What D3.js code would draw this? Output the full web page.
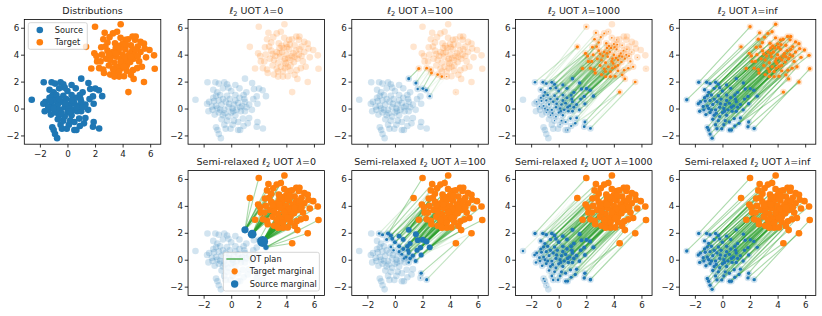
<!DOCTYPE html>
<html>
<head>
<meta charset="utf-8">
<script src="https://cdn.jsdelivr.net/npm/d3@7"></script>
<style>
  body { margin: 0; background: #fff; }
  text { font-family: "DejaVu Sans", sans-serif; }
</style>
</head>
<body>
<svg id="fig" width="822" height="316"></svg>
<script>
const srcX = [-2.59, -1.72, -1.15, -0.9, -0.5, -0.3, 1.0, 1.52, 2.02, 2.28,
  2.52, 1.85, 1.65, 1.1, 0.6, 0.3, -0.2, -0.6, -1.3, -1.0,
  -1.6, -1.75, -1.3, -1.1, -0.8, -1.65, -1.35, -1.2, -0.9, -0.6,
  -1.1, -1.0, -0.9, -0.75, -0.5, -0.3, 0.1, 0.5, 0.65, 0.9,
  0.85, 1.9, 1.85, 2.3, 1.3, 0.3, 0.0, -0.2, 0.2, 0.5,
  0.8, 1.0, 1.3, 1.5, 1.9, 0.6, 0.3, -0.1, -0.4, -0.7,
  -0.9, -1.1, -0.5, -0.2, 0.1, 0.4, 0.7, 1.0, 1.1, -0.4,
  0.2, 0.5, -0.7, -1.4, -0.3, 0.0, 0.9, 1.6, -0.6, 0.3,
  -0.8, -0.05, 1.2, 0.65, -0.15, -1.0, 0.15, -0.45, 0.95, -1.25];
const srcY = [0.65, 1.95, 1.95, 1.85, 1.95, 1.8, 2.22, 1.9, 1.48, 1.36,
  0.92, 0.9, 1.45, 1.2, 1.5, 1.75, 1.55, 1.5, 1.4, 1.2,
  0.5, 0.35, 0.8, 0.95, 1.0, -0.2, -0.1, -0.45, -0.3, -0.5,
  -1.4, -1.6, -1.9, -2.2, -1.2, -0.9, -1.2, -1.6, -1.6, -1.3,
  -0.75, -1.0, -1.35, -1.48, -0.7, -0.5, -0.3, 0.1, 0.3, 0.4,
  0.2, 0.5, 0.3, -0.1, 0.35, 0.8, 1.0, 0.7, 0.5, 0.3,
  0.6, 0.2, -0.1, -0.6, 0.0, -0.1, -0.2, -0.2, 0.1, -1.5,
  -0.9, -1.0, -0.8, 0.15, 0.95, 1.3, 1.0, 0.7, 0.7, 0.6,
  -0.1, -1.5, -1.1, 0.1, 0.35, 0.0, -0.2, -0.35, 0.7, 0.55];

// target samples
const tgtX = [1.35, 2.0, 3.86, 2.7, 3.3, 3.6, 4.72, 5.3, 5.55, 5.95,
  6.28, 6.33, 5.55, 4.42, 3.75, 3.1, 1.73, 2.15, 1.95, 2.45,
  2.9, 3.05, 4.2, 4.9, 5.1, 4.6, 4.0, 3.5, 2.9, 2.5,
  2.4, 2.8, 3.2, 3.7, 4.2, 4.7, 5.3, 5.7, 5.2, 4.8,
  4.4, 3.9, 3.4, 3.0, 2.6, 2.65, 3.4, 3.9, 4.3, 4.75,
  4.1, 5.4, 4.6, 3.6, 4.0, 4.5, 3.8, 4.3, 3.3, 3.1,
  4.9, 3.55, 4.15, 3.75, 2.3, 5.1, 4.05, 3.45, 4.4, 3.85,
  5.05, 4.55, 2.75, 4.8, 3.4, 2.1, 4.95, 3.95, 4.3, 3.65,
  3.5, 4.6, 3.0, 4.25, 3.85, 5.6, 2.6, 3.3, 4.95, 4.1];
const tgtY = [4.58, 6.07, 6.26, 5.62, 5.58, 5.7, 5.35, 4.95, 4.82, 4.35,
  3.95, 2.95, 1.97, 1.22, 2.37, 2.52, 2.97, 3.5, 4.1, 4.55,
  4.9, 5.3, 5.1, 5.1, 4.6, 4.7, 4.8, 4.5, 4.3, 4.0,
  3.5, 3.7, 3.9, 4.2, 4.4, 4.3, 4.2, 3.8, 3.5, 3.7,
  3.9, 3.7, 3.4, 3.2, 2.9, 2.64, 2.75, 3.0, 3.2, 2.85,
  2.4, 3.1, 2.5, 3.1, 4.0, 4.1, 4.5, 3.6, 4.2, 3.6,
  4.0, 3.85, 3.75, 2.75, 3.0, 3.9, 4.55, 4.85, 5.15, 5.25,
  3.0, 3.45, 4.6, 2.2, 2.37, 3.9, 4.4, 3.35, 2.8, 4.65,
  4.1, 3.85, 4.05, 4.75, 3.5, 4.45, 5.15, 2.95, 5.35, 3.1];

const lambdas = [0, 100, 1000, Infinity];
const lambdaLabels = ["0", "100", "1000", "inf"];
const xTicks = [-2, 0, 2, 4, 6];
const yTicks = [-2, 0, 2, 4, 6];

const C0 = "#1f77b4", C1 = "#ff7f0e", C2 = "#2ca02c";
const W = 136.5, H = 124.8;
const colLeft = [24.3, 188.05, 351.8, 515.55, 679.3];
const rowTop = [19.4, 170.6];
const xDomain = [-3.13, 6.77], yDomain = [-2.65, 6.62];

const svg = d3.select("#fig");
const N = srcX.length, M = tgtX.length;
const a = 1 / N, b = 1 / M;

// squared euclidean cost, flat N x M
const cost = new Float64Array(N * M);
for (let i = 0; i < N; i++)
  for (let j = 0; j < M; j++)
    cost[i * M + j] = (srcX[i] - tgtX[j]) ** 2 + (srcY[i] - tgtY[j]) ** 2;

// l2 unbalanced OT: <C,P> + lam*||P1-a||^2 + lam*||P'1-b||^2, P >= 0
function solveUOT(lam, iters = 1800) {
  const k2 = 2 * lam;
  const step = 1 / (k2 * (N + M));
  let P = new Float64Array(N * M), Y = new Float64Array(N * M), t = 1;
  const r = new Float64Array(N), s = new Float64Array(M);
  for (let k = 0; k < iters; k++) {
    r.fill(0); s.fill(0);
    for (let i = 0; i < N; i++)
      for (let j = 0; j < M; j++) { const v = Y[i * M + j]; r[i] += v; s[j] += v; }
    const Pn = new Float64Array(N * M);
    for (let i = 0; i < N; i++)
      for (let j = 0; j < M; j++) {
        const q = i * M + j;
        const g = cost[q] + k2 * (r[i] - a) + k2 * (s[j] - b);
        Pn[q] = Math.max(0, Y[q] - step * g);
      }
    const tn = (1 + Math.sqrt(1 + 4 * t * t)) / 2, w = (t - 1) / tn;
    for (let q = 0; q < N * M; q++) Y[q] = Pn[q] + w * (Pn[q] - P[q]);
    P = Pn; t = tn;
  }
  return P;
}

function projSimplex(v, z) {
  const u = Float64Array.from(v).sort();
  let css = 0, theta = 0;
  for (let k = 0; k < u.length; k++) {
    const val = u[u.length - 1 - k];
    css += val;
    const th = (css - z) / (k + 1);
    if (val - th > 0) theta = th;
  }
  return v.map((d) => Math.max(0, d - theta));
}

// semi-relaxed: target marginal kept exact, source marginal penalised
function solveSemi(lam, iters = 700) {
  let P = new Float64Array(N * M);
  for (let j = 0; j < M; j++) {
    let best = 0;
    for (let i = 1; i < N; i++) if (cost[i * M + j] < cost[best * M + j]) best = i;
    P[best * M + j] = b;
  }
  if (lam === 0) return P;
  const k2 = 2 * lam;
  const step = 1 / (k2 * M);
  let Y = P.slice(), t = 1;
  const r = new Float64Array(N), col = new Float64Array(N);
  for (let k = 0; k < iters; k++) {
    r.fill(0);
    for (let i = 0; i < N; i++)
      for (let j = 0; j < M; j++) r[i] += Y[i * M + j];
    const Pn = new Float64Array(N * M);
    for (let j = 0; j < M; j++) {
      for (let i = 0; i < N; i++) {
        const q = i * M + j;
        col[i] = Y[q] - step * (cost[q] + k2 * (r[i] - a));
      }
      const pr = projSimplex(col, b);
      for (let i = 0; i < N; i++) Pn[i * M + j] = pr[i];
    }
    const tn = (1 + Math.sqrt(1 + 4 * t * t)) / 2, w = (t - 1) / tn;
    for (let q = 0; q < N * M; q++) Y[q] = Pn[q] + w * (Pn[q] - P[q]);
    P = Pn; t = tn;
  }
  return P;
}

// exact OT (uniform weights, same size) -> assignment
function solveExact() {
  const n = N;
  const u = new Array(n + 1).fill(0), v = new Array(n + 1).fill(0);
  const p = new Array(n + 1).fill(0), way = new Array(n + 1).fill(0);
  for (let i = 1; i <= n; i++) {
    p[0] = i;
    let j0 = 0;
    const minv = new Array(n + 1).fill(Infinity), used = new Array(n + 1).fill(false);
    do {
      used[j0] = true;
      const i0 = p[j0];
      let delta = Infinity, j1 = 0;
      for (let j = 1; j <= n; j++) if (!used[j]) {
        const cur = cost[(i0 - 1) * M + (j - 1)] - u[i0] - v[j];
        if (cur < minv[j]) { minv[j] = cur; way[j] = j0; }
        if (minv[j] < delta) { delta = minv[j]; j1 = j; }
      }
      for (let j = 0; j <= n; j++) {
        if (used[j]) { u[p[j]] += delta; v[j] -= delta; } else minv[j] -= delta;
      }
      j0 = j1;
    } while (p[j0] !== 0);
    do { const j1 = way[j0]; p[j0] = p[j1]; j0 = j1; } while (j0);
  }
  const P = new Float64Array(N * M);
  for (let j = 1; j <= n; j++) P[(p[j] - 1) * M + (j - 1)] = a;
  return P;
}

const rScale = d3.scalePow().exponent(0.3).domain([0, a]).range([0, 1.7]);
let clipCount = 0;

function makePanel(col, row) {
  const g = svg.append("g").attr("transform", `translate(${colLeft[col]},${rowTop[row]})`);
  const x = d3.scaleLinear().domain(xDomain).range([0, W]);
  const y = d3.scaleLinear().domain(yDomain).range([H, 0]);
  const id = "clip" + clipCount++;
  g.append("clipPath").attr("id", id).append("rect").attr("width", W).attr("height", H);
  const area = g.append("g").attr("clip-path", `url(#${id})`);
  return { g, area, x, y };
}

function addAxes(p, showX) {
  const { g, x, y } = p;
  g.append("rect").attr("width", W).attr("height", H)
    .attr("fill", "none").attr("stroke", "#000").attr("stroke-width", 0.8);
  const xa = g.append("g").attr("transform", `translate(0,${H})`)
    .call(d3.axisBottom(x).tickValues(xTicks).tickSize(3.3).tickSizeOuter(0).tickPadding(3));
  const ya = g.append("g")
    .call(d3.axisLeft(y).tickValues(yTicks).tickSize(3.3).tickSizeOuter(0).tickPadding(1.8));
  [xa, ya].forEach((ax) => {
    ax.select(".domain").remove();
    ax.attr("font-family", "DejaVu Sans").attr("font-size", 8.7);
    ax.selectAll("line").attr("stroke", "#000").attr("stroke-width", 0.8);
    ax.selectAll("text").attr("fill", "#222");
  });
  if (!showX) xa.selectAll("text").remove();
}

function addTitle(p, semi, label) {
  const t = p.g.append("text").attr("x", W / 2).attr("y", -5.5)
    .attr("text-anchor", "middle").attr("font-size", 9.5).attr("fill", "#222");
  if (label === null) { t.text("Distributions"); return; }
  if (semi) t.append("tspan").text("Semi-relaxed ");
  t.append("tspan").attr("font-style", "italic").text("ℓ");
  t.append("tspan").attr("font-size", 6.7).attr("dy", 2.2).text("2");
  t.append("tspan").attr("dy", -2.2).text(" UOT ");
  t.append("tspan").attr("font-style", "italic").text("λ");
  t.append("tspan").text("=" + label);
}

function drawOT(p, plan, semi) {
  const { area, x, y } = p;
  area.append("g").selectAll("circle").data(d3.range(N)).join("circle")
    .attr("cx", (i) => x(srcX[i])).attr("cy", (i) => y(srcY[i])).attr("r", 3.3)
    .attr("fill", C0).attr("fill-opacity", 0.2);
  area.append("g").selectAll("circle").data(d3.range(M)).join("circle")
    .attr("cx", (j) => x(tgtX[j])).attr("cy", (j) => y(tgtY[j])).attr("r", 3.3)
    .attr("fill", C1).attr("fill-opacity", 0.2);
  if (!plan) return;
  const pmax = d3.max(plan);
  if (!(pmax > 0)) return;
  const links = [];
  for (let i = 0; i < N; i++)
    for (let j = 0; j < M; j++) {
      const w = plan[i * M + j] / pmax;
      if (w > 0.01) links.push({ i, j, w });
    }
  area.append("g").selectAll("line").data(links).join("line")
    .attr("x1", (d) => x(srcX[d.i])).attr("y1", (d) => y(srcY[d.i]))
    .attr("x2", (d) => x(tgtX[d.j])).attr("y2", (d) => y(tgtY[d.j]))
    .attr("stroke", C2).attr("stroke-width", 1.1)
    .attr("stroke-opacity", (d) => 0.4 * d.w);

  const rowSum = d3.range(N).map((i) => d3.sum(d3.range(M), (j) => plan[i * M + j]));
  const colSum = d3.range(M).map((j) => d3.sum(d3.range(N), (i) => plan[i * M + j]));
  const tR = (j) => (semi ? 3.3 : rScale(colSum[j]));
  area.append("g").selectAll("circle").data(d3.range(M).filter((j) => tR(j) > 0.3)).join("circle")
    .attr("cx", (j) => x(tgtX[j])).attr("cy", (j) => y(tgtY[j])).attr("r", tR)
    .attr("fill", C1);
  area.append("g").selectAll("circle").data(d3.range(N).filter((i) => rScale(rowSum[i]) > 0.3)).join("circle")
    .attr("cx", (i) => x(srcX[i])).attr("cy", (i) => y(srcY[i])).attr("r", (i) => rScale(rowSum[i]))
    .attr("fill", C0);
}

function legendBox(g, x0, y0, w, h) {
  const lg = g.append("g").attr("transform", `translate(${x0},${y0})`);
  lg.append("rect").attr("width", w).attr("height", h).attr("rx", 2)
    .attr("fill", "#fff").attr("fill-opacity", 0.8)
    .attr("stroke", "#cccccc").attr("stroke-width", 0.8);
  return lg;
}

// --- Distributions panel
{
  const p = makePanel(0, 0);
  p.area.append("g").selectAll("circle").data(d3.range(N)).join("circle")
    .attr("cx", (i) => p.x(srcX[i])).attr("cy", (i) => p.y(srcY[i])).attr("r", 3.3).attr("fill", C0);
  p.area.append("g").selectAll("circle").data(d3.range(M)).join("circle")
    .attr("cx", (j) => p.x(tgtX[j])).attr("cy", (j) => p.y(tgtY[j])).attr("r", 3.3).attr("fill", C1);
  addAxes(p, true);
  addTitle(p, false, null);
  const lg = legendBox(p.g, 4, 3.3, 59, 26.6);
  [["Source", C0], ["Target", C1]].forEach(([label, c], k) => {
    lg.append("circle").attr("cx", 11.5).attr("cy", 7.3 + k * 12.3).attr("r", 3.3).attr("fill", c);
    lg.append("text").attr("x", 26.5).attr("y", 7.3 + k * 12.3).attr("dy", "0.35em")
      .attr("font-size", 8.2).attr("fill", "#222").text(label);
  });
}

const exactPlan = solveExact();

lambdas.forEach((lam, k) => {
  // top row: both marginals relaxed
  const pu = makePanel(k + 1, 0);
  const planU = lam === 0 ? null : lam === Infinity ? exactPlan : solveUOT(lam);
  drawOT(pu, planU, false);
  addAxes(pu, false);
  addTitle(pu, false, lambdaLabels[k]);

  // bottom row: semi-relaxed
  const ps = makePanel(k + 1, 1);
  const planS = lam === Infinity ? exactPlan : solveSemi(lam);
  drawOT(ps, planS, true);
  addAxes(ps, true);
  addTitle(ps, true, lambdaLabels[k]);

  if (k === 0) {
    const lg = legendBox(ps.g, 35.3, 81.7, 96, 38.7);
    lg.append("line").attr("x1", 3).attr("x2", 19.6).attr("y1", 6.7).attr("y2", 6.7)
      .attr("stroke", C2).attr("stroke-width", 1.2);
    lg.append("circle").attr("cx", 11.3).attr("cy", 19).attr("r", 3.1).attr("fill", C1);
    lg.append("circle").attr("cx", 11.3).attr("cy", 31.7).attr("r", 3.7).attr("fill", C0);
    ["OT plan", "Target marginal", "Source marginal"].forEach((label, e) => {
      lg.append("text").attr("x", 26.5).attr("y", 6.7 + e * 12.5).attr("dy", "0.35em")
        .attr("font-size", 8.2).attr("fill", "#222").text(label);
    });
  }
});
</script>
</body>
</html>
